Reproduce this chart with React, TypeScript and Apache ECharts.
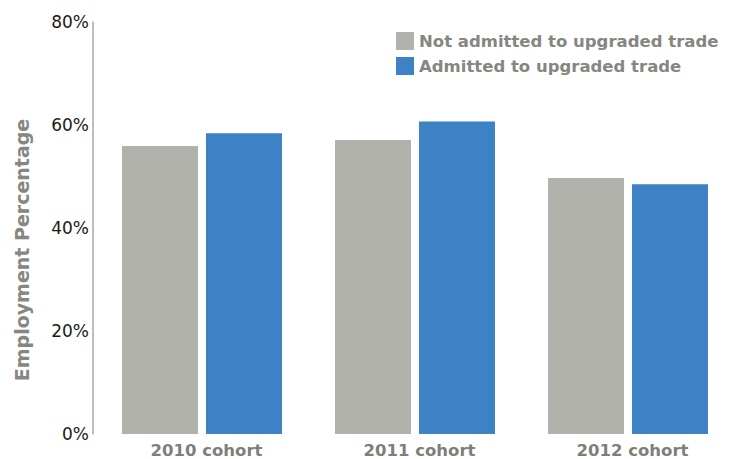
import React, { useEffect, useRef } from "react";
import * as echarts from "echarts";

const categories = ["2010 cohort", "2011 cohort", "2012 cohort"];
const notAdmitted = [55.9, 57.1, 49.7];
const admitted = [58.4, 60.7, 48.5];
const yTicks = [0, 20, 40, 60, 80];
const yTitle = "Employment Percentage";

const FONT = "DejaVu Sans";

export default function App() {
  const ref = useRef<HTMLDivElement>(null);
  useEffect(() => {
    if (!ref.current) return;
    const chart = echarts.init(ref.current, null, { renderer: "svg" });
    chart.setOption({
      animation: false,
      backgroundColor: "#ffffff",
      textStyle: { fontFamily: FONT },
      legend: {
        orient: "vertical",
        left: 391,
        top: 27,
        itemWidth: 18,
        itemHeight: 18,
        itemGap: 7,
        icon: "rect",
        textStyle: { fontSize: 16.5, color: "#868681", fontWeight: "bold", fontFamily: FONT, padding: [0, 0, 0, 0] },
        data: ["Not admitted to upgraded trade", "Admitted to upgraded trade"],
      },
      graphic: [
        {
          type: "text",
          x: 22,
          y: 250,
          rotation: Math.PI / 2,
          style: {
            text: yTitle,
            fontSize: 19,
            fontWeight: "bold",
            fontFamily: FONT,
            fill: "#878782",
            align: "center",
            verticalAlign: "middle",
          },
        },
      ],
      grid: { left: 95.5, width: 639, top: 22, bottom: 25, containLabel: false, outerBoundsMode: "none" },
      xAxis: {
        type: "category",
        data: categories,
        axisLine: { show: false },
        axisTick: { show: false },
        axisLabel: {
          fontSize: 16.5,
          fontWeight: "bold",
          color: "#7f7f7a",
          margin: 8,
          padding: [0, 0, 0, 9],
          fontFamily: FONT,
        },
      },
      yAxis: {
        type: "value",
        min: yTicks[0],
        max: yTicks[yTicks.length - 1],
        interval: 20,
        offset: 2.5,
        axisLine: { show: true, lineStyle: { color: "#a8a8a3", width: 1.5 } },
        axisTick: { show: false },
        splitLine: { show: false },
        axisLabel: { fontSize: 17, color: "#1a1a1a", fontWeight: "normal", margin: 4, formatter: "{value}%", fontFamily: FONT },
      },
      series: [
        {
          name: "Not admitted to upgraded trade",
          type: "bar",
          data: notAdmitted,
          barWidth: 76,
          barGap: "10.5%",
          itemStyle: { color: "#b2b2ad" },
        },
        {
          name: "Admitted to upgraded trade",
          type: "bar",
          data: admitted,
          barWidth: 76,
          itemStyle: { color: "#3d82c5" },
        },
      ],
    });
    return () => chart.dispose();
  }, []);
  return <div ref={ref} style={{ width: 731, height: 459, position: "absolute", left: 0, top: 0 }} />;
}
